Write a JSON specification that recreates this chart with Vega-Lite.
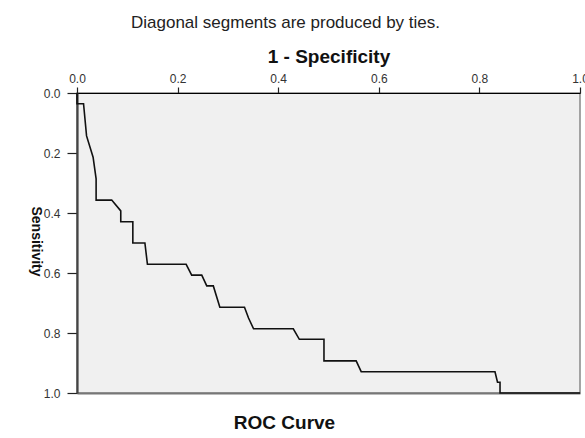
{
  "$schema": "https://vega.github.io/schema/vega-lite/v6.json",
  "width": 503,
  "height": 300,
  "autosize": {"type": "none"},
  "padding": {"left": 77, "top": 93, "right": 5, "bottom": 45},
  "background": "white",
  "title": {
    "text": "Diagonal segments are produced by ties.",
    "orient": "top",
    "anchor": "middle",
    "dx": -43,
    "offset": 15,
    "font": "Liberation Sans",
    "fontSize": 17,
    "fontWeight": "normal",
    "color": "#222"
  },
  "config": {
    "view": {"fill": "#f0f0f0", "stroke": "#888888", "strokeWidth": 1.5},
    "axis": {"grid": false, "labelFont": "Liberation Sans", "titleFont": "Liberation Sans", "labelColor": "#333", "titleColor": "#111"}
  },
  "data": {
    "values": [
      {"i": 0, "fpr": 0.0, "sens": 0.0},
      {"i": 1, "fpr": 0.0, "sens": 0.036},
      {"i": 2, "fpr": 0.013, "sens": 0.036},
      {"i": 3, "fpr": 0.019, "sens": 0.143},
      {"i": 4, "fpr": 0.032, "sens": 0.214},
      {"i": 5, "fpr": 0.038, "sens": 0.286},
      {"i": 6, "fpr": 0.038, "sens": 0.357},
      {"i": 7, "fpr": 0.069, "sens": 0.357},
      {"i": 8, "fpr": 0.087, "sens": 0.393},
      {"i": 9, "fpr": 0.087, "sens": 0.429},
      {"i": 10, "fpr": 0.111, "sens": 0.429},
      {"i": 11, "fpr": 0.111, "sens": 0.5},
      {"i": 12, "fpr": 0.135, "sens": 0.5},
      {"i": 13, "fpr": 0.14, "sens": 0.571},
      {"i": 14, "fpr": 0.217, "sens": 0.571},
      {"i": 15, "fpr": 0.228, "sens": 0.607},
      {"i": 16, "fpr": 0.248, "sens": 0.607},
      {"i": 17, "fpr": 0.258, "sens": 0.643},
      {"i": 18, "fpr": 0.271, "sens": 0.643},
      {"i": 19, "fpr": 0.284, "sens": 0.714},
      {"i": 20, "fpr": 0.333, "sens": 0.714},
      {"i": 21, "fpr": 0.341, "sens": 0.75},
      {"i": 22, "fpr": 0.351, "sens": 0.786},
      {"i": 23, "fpr": 0.43, "sens": 0.786},
      {"i": 24, "fpr": 0.442, "sens": 0.821},
      {"i": 25, "fpr": 0.491, "sens": 0.821},
      {"i": 26, "fpr": 0.491, "sens": 0.893},
      {"i": 27, "fpr": 0.555, "sens": 0.893},
      {"i": 28, "fpr": 0.565, "sens": 0.929},
      {"i": 29, "fpr": 0.831, "sens": 0.929},
      {"i": 30, "fpr": 0.836, "sens": 0.964},
      {"i": 31, "fpr": 0.841, "sens": 0.964},
      {"i": 32, "fpr": 0.841, "sens": 1.0},
      {"i": 33, "fpr": 1.0, "sens": 1.0}
    ]
  },
  "resolve": {"axis": {"x": "independent"}},
  "layer": [
    {
      "mark": {"type": "line", "color": "#111", "strokeWidth": 1.6, "interpolate": "linear"},
      "encoding": {
        "order": {"field": "i", "type": "quantitative"},
        "x": {
          "field": "fpr", "type": "quantitative",
          "scale": {"domain": [0, 1], "nice": false, "zero": false},
          "axis": {
            "orient": "top", "title": "1 - Specificity", "values": [0, 0.2, 0.4, 0.6, 0.8, 1.0], "format": ".1f",
            "titleFontSize": 19, "titleFontWeight": "bold", "titlePadding": 6,
            "labelFontSize": 12, "labelPadding": 2, "tickSize": 6, "tickColor": "#222", "tickWidth": 1.2,
            "domainColor": "#000", "domainWidth": 1.2, "labelFlush": false
          }
        },
        "y": {
          "field": "sens", "type": "quantitative",
          "scale": {"domain": [0, 1], "nice": false, "zero": false, "reverse": true},
          "axis": {
            "title": "Sensitivity", "values": [0, 0.2, 0.4, 0.6, 0.8, 1.0], "format": ".1f",
            "titleFontSize": 14, "titleFontWeight": "bold", "titleAngle": 90,
            "titleX": -42, "titleY": 148, "titleAlign": "center", "titleBaseline": "middle",
            "labelFontSize": 12, "labelPadding": 7, "tickSize": 10, "tickColor": "#222", "tickWidth": 1.2,
            "domainColor": "#444", "domainWidth": 2.2, "labelFlush": false
          }
        }
      }
    },
    {
      "mark": {"type": "point", "opacity": 0},
      "encoding": {
        "x": {
          "field": "fpr", "type": "quantitative",
          "axis": {
            "orient": "bottom", "title": "ROC Curve", "labels": false, "ticks": false,
            "domain": true, "domainColor": "#777", "domainWidth": 2,
            "titleFontSize": 19, "titleFontWeight": "bold", "titlePadding": 20, "titleX": 207
          }
        }
      }
    }
  ]
}
